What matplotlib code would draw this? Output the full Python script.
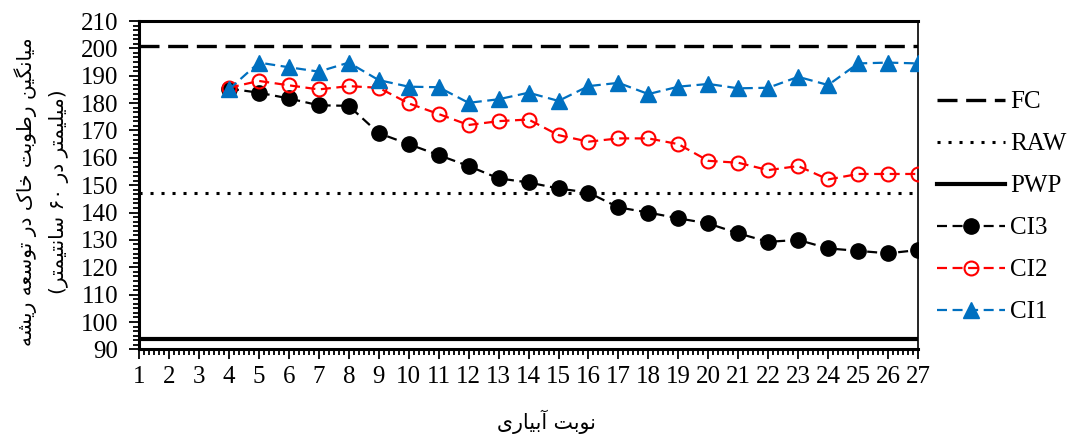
import re
import matplotlib
matplotlib.use('Agg')
import matplotlib.pyplot as plt
from matplotlib.ticker import MultipleLocator, AutoMinorLocator

# data
irrigation = list(range(4, 28))
ci3 = [185.3, 183.8, 181.7, 179.2, 179.0, 169.0, 165.0, 161.0, 157.0, 152.5, 151.0, 148.8,
       147.3, 141.9, 140.0, 137.9, 136.0, 132.4, 129.3, 130.0, 126.9, 126.0, 125.1, 126.3]
ci2 = [185.6, 188.1, 186.5, 185.0, 186.2, 185.6, 179.9, 176.0, 172.0, 173.4, 174.0, 168.3,
       165.9, 167.1, 167.1, 165.0, 158.9, 158.2, 155.5, 157.0, 152.1, 154.1, 154.1, 154.1]
ci1 = [185.0, 194.8, 193.1, 191.5, 194.8, 188.4, 186.0, 185.8, 180.1, 181.4, 183.8, 180.8,
       186.2, 187.4, 183.3, 186.0, 187.0, 185.4, 185.6, 189.6, 186.6, 194.5, 194.8, 194.5]
fc = 200.8
raw = 147.25
pwp = 93.7
x_ticks = list(range(1, 28))

# Persian text is shaped by hand: matplotlib has no Arabic shaping
# forms: isolated, final, initial, medial
DUAL = {
    'ب': '\uFE8F\uFE90\uFE91\uFE92', 'ت': '\uFE95\uFE96\uFE97\uFE98',
    'خ': '\uFEA5\uFEA6\uFEA7\uFEA8', 'س': '\uFEB1\uFEB2\uFEB3\uFEB4',
    'ش': '\uFEB5\uFEB6\uFEB7\uFEB8', 'ط': '\uFEC1\uFEC2\uFEC3\uFEC4',
    'ع': '\uFEC9\uFECA\uFECB\uFECC', 'ل': '\uFEDD\uFEDE\uFEDF\uFEE0',
    'م': '\uFEE1\uFEE2\uFEE3\uFEE4', 'ن': '\uFEE5\uFEE6\uFEE7\uFEE8',
    'ه': '\uFEE9\uFEEA\uFEEB\uFEEC', 'ی': '\uFBFC\uFBFD\uFBFE\uFBFF',
    'ک': '\uFB8E\uFB8F\uFB90\uFB91', 'گ': '\uFB92\uFB93\uFB94\uFB95',
}
RIGHT = {
    'ا': '\uFE8D\uFE8E', 'آ': '\uFE81\uFE82', 'د': '\uFEA9\uFEAA',
    'ر': '\uFEAD\uFEAE', 'و': '\uFEED\uFEEE',
}


def fa(s):
    out = []
    for i, c in enumerate(s):
        prev = s[i - 1] if i > 0 else ''
        nxt = s[i + 1] if i + 1 < len(s) else ''
        jp = prev in DUAL
        if c in DUAL:
            jn = nxt in DUAL or nxt in RIGHT
            form = 3 if (jp and jn) else 1 if jp else 2 if jn else 0
            out.append(DUAL[c][form])
        elif c in RIGHT:
            out.append(RIGHT[c][1 if jp else 0])
        else:
            out.append(c)
    tokens = re.findall(r'[0-9\u06F0-\u06F9]+|.', ''.join(out))
    swap = {'(': ')', ')': '('}
    return ''.join(swap.get(t, t) for t in reversed(tokens))


plt.rcParams['font.family'] = ['Liberation Serif', 'DejaVu Sans']

fig = plt.figure(figsize=(10.67, 4.34), dpi=100)
ax = fig.add_axes([0.1303, 0.195, 0.7301, 0.7566])

ax.axhline(fc, color='black', lw=2.4, ls=(0, (6, 2.6)), label='FC')
ax.axhline(raw, color='black', lw=2.2, ls=(0, (1, 2.6)), label='RAW')
ax.axhline(pwp, color='black', lw=3.0, ls='-', label='PWP')

ax.plot(irrigation, ci3, color='black', lw=1.6, ls=(0, (4.5, 2.5)), marker='o',
        ms=11, mfc='black', mec='black', label='CI3', zorder=3)
ax.plot(irrigation, ci2, color='#FF0000', lw=1.6, ls=(0, (4.5, 2.5)), marker='o',
        ms=10, mfc='none', mec='#FF0000', mew=1.5, label='CI2', zorder=4)
ax.plot(irrigation, ci1, color='#0070C0', lw=1.6, ls=(0, (4.5, 2.5)), marker='^',
        ms=11.5, mfc='#0070C0', mec='#0070C0', label='CI1', zorder=5)

ax.set_xlim(1, 27)
ax.set_ylim(90, 210)
ax.set_xticks(x_ticks)
ax.yaxis.set_major_locator(MultipleLocator(10))
ax.yaxis.set_minor_locator(AutoMinorLocator(6))
ax.xaxis.set_minor_locator(AutoMinorLocator(6))
ax.tick_params(which='major', direction='out', length=7, width=1.3, labelsize=18, colors='black')
ax.tick_params(which='minor', direction='out', length=4, width=1.3)
ax.tick_params(axis='y', which='major', pad=8)
ax.tick_params(axis='x', which='major', pad=5)

ax.spines['top'].set_linewidth(2.2)
ax.spines['left'].set_linewidth(2.2)
ax.spines['bottom'].set_linewidth(2.2)
ax.spines['right'].set_linewidth(1.2)

fig.text(0.039, 0.558, fa('میانگین رطوبت خاک در توسعه ریشه') + '\n' + fa('(میلیمتر در ۶۰ سانتیمتر)'),
         rotation=90, ha='center', va='center', fontsize=14.5, family=['DejaVu Sans'],
         linespacing=1.85)
fig.text(0.512, 0.028, fa('نوبت آبیاری'), ha='center', va='center', fontsize=14.8,
         family=['DejaVu Sans'])

fig.legend(loc='center left', bbox_to_anchor=(0.878, 0.523), frameon=False, fontsize=18,
           handlelength=2.72, handletextpad=0.2, labelspacing=0.78, borderpad=0, borderaxespad=0)

fig.savefig('out.png', dpi=100)
